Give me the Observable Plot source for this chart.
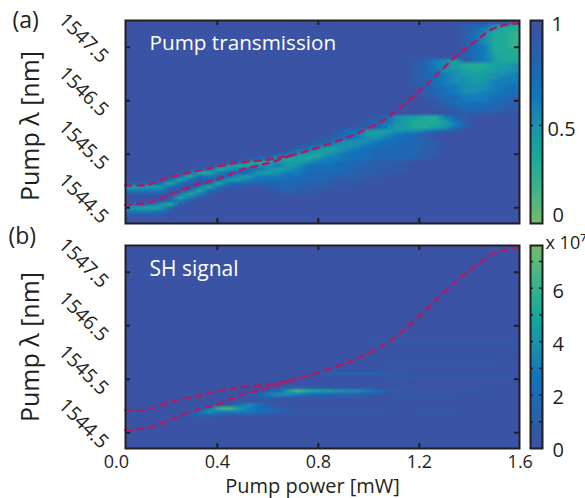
<!DOCTYPE html>
<html>
<head>
<meta charset="utf-8">
<script src="https://cdn.jsdelivr.net/npm/d3@7"></script>
<script src="https://cdn.jsdelivr.net/npm/@observablehq/plot@0.6"></script>
<style>
html,body{margin:0;padding:0;background:#fff}
#chart{position:relative;width:585px;height:498px;overflow:hidden}
#chart svg{position:absolute;overflow:visible;background:none}
</style>
</head>
<body>
<div id="chart"></div>
<script>
const FONT = "'Open Sans', sans-serif";
const INK = "#231f20";
const LINE = "#a5206b";

// Axis values
const powerDomain = [0.036, 1.597];
const lambdaDomain = [1544.205, 1548.0];
const powerLabels = [0, 0.4, 0.8, 1.2, 1.6];
const powerTicks = [0.4, 0.8, 1.2];
const lambdaTicks = [1544.5, 1545.5, 1546.5, 1547.5];

// Resonance traces: pump power [mW], wavelength [nm]
const upperPower = [0.036,0.123,0.202,0.333,0.463,0.598,0.701,0.820,0.954,1.085,1.216,1.350,1.430,1.481,1.533,1.588];
const upperLambda = [1544.92,1544.93,1545.06,1545.20,1545.33,1545.40,1545.49,1545.66,1545.89,1546.22,1546.75,1547.35,1547.64,1547.82,1547.91,1547.95];
const lowerPower = [0.036,0.135,0.226,0.333,0.400,0.491,0.598,0.701];
const lowerLambda = [1544.55,1544.60,1544.77,1544.95,1545.03,1545.20,1545.33,1545.49];

// Colour ramp
const rampColors = ["#3a53a4","#0f75bd","#1b8fb0","#14a89c","#3fb58a","#6bbd6e"];
const transmissionStops = [1,0.65,0.5,0.35,0.15,0];
const shStops = [0,2.66,3.8,4.94,6.46,7.6];
const transmissionBar = [1,.95,.9,.85,.8,.75,.7,.65,.6,.55,.5,.45,.4,.35,.3,.25,.2,.15,.1,.05,0];
const shBar = [7.6,7.2,6.8,6.4,6,5.6,5.2,4.8,4.4,4,3.6,3.2,2.8,2.4,2,1.6,1.2,.8,.4,0];

// Heat-map samples on a 40 x 58 grid.
// Each run is [row, firstColumn, digits] or [column, firstRow, digits]; a digit is tenths,
// "a" stands for 0.5 and "b" for 9.5.
const gridCols = 40, gridRows = 58;
const transmissionRowRuns = [
[1,34,"987543"],[2,34,"986433"],[3,34,"975332"],[4,34,"975332"],[5,34,"975332"],[6,34,"975332"],
[7,34,"976332"],[8,34,"976333"],[9,34,"976333"],[10,34,"976433"],[11,29,"98654"],[11,34,"976433"],
[12,29,"98654333445"],[13,29,"98654333445"],[14,29,"98755434455"],[15,29,"98765444556"],
[16,29,"98765544566"],[17,29,"98765545666"],[18,29,"98766555667"],[19,30,"9876555677"],
[20,30,"9876556677"],[21,30,"9877666778"],[22,30,"b988666789"],[23,31,"987777889"],
[24,31,"b98778889"],[25,32,"b988889b"],[26,33,"b999bbb"],
[27,25,"9754433689"],[28,24,"99754333579"],[29,24,"98654333468"],[30,23,"998644334579"],
[31,21,"9775445556789"],[32,21,"9764456789"],[33,20,"98765567789"],
[34,19,"9865556778889"],[35,18,"98655567788899"],[36,17,"975445677888899"],
[37,16,"9654456778888899"],[38,15,"96443567778888899"],[39,13,"986443566777888899"],
[40,17,"55667788999b"],[41,18,"777888999b"],[42,17,"77777888999b"],[43,15,"88888888999bb"],
[44,15,"8877888999bb"],[45,14,"b888888999bb"],[46,13,"b8888899bbb"],[47,14,"b889999bb"],
[48,14,"b9899bb"],[49,16,"9bbb"]
];
const transmissionColumnRuns = [
[0,46,"8469"],[1,46,"8469"],[2,46,"8469"],[3,46,"7469"],[4,45,"7379"],[5,44,"7379"],[6,43,"7379"],
[7,42,"7379"],[8,42,"7369"],[9,41,"7369"],[10,41,"4579"],[11,40,"7369"],[12,40,"4479"],
[13,39,"7358"],[14,39,"7358"],[15,38,"7357"],[16,38,"6347"],
[0,52,"8469"],[1,52,"8469"],[2,52,"7369"],[3,52,"5479"],[4,51,"7389"],[5,49,"7369"],[6,48,"7369"],
[7,47,"6369"],[8,46,"7379"],[9,45,"7379"],[10,44,"7479"],[11,44,"5489"],[12,43,"7468"],
[13,42,"74678"],[14,42,"546789"],[15,41,"6456789"],[16,40,"54567788"],[17,39,"4456678889"]
];
const shRowRuns = [
[27,24,"aaaaaaaaaaaaaaaa"],[31,26,"aaaaaaaaaaaaa"],[33,26,"aaaaaaaaaaaa"],
[36,19,"a1222221aa"],[37,26,"aaaaaaaaaaaaaa"],[38,22,"aaaaaaa"],
[40,15,"a1111aa"],[41,14,"12697665554321"],[42,12,"1245543322211a"],[43,13,"1211aaaaaaa"],
[45,10,"13531"],[46,7,"1389643211"],[47,7,"35444433211aaaaaaaaa"],[48,6,"1221aaa"],[47,29,"aaaaa"],
[41,28,"aaaaaaaaa"],[43,27,"aaaaaaa"]
];
const shColumnRuns = [];

const digit = ch => ch === "a" ? 0.5 : ch === "b" ? 9.5 : +ch;
function buildGrid(rowRuns, columnRuns, blank, scale, pick) {
  const grid = new Array(gridCols * gridRows).fill(blank);
  const put = (r, c, ch) => {
    if (r >= gridRows || c >= gridCols) return;
    const i = r * gridCols + c;
    grid[i] = pick(grid[i], digit(ch) * scale);
  };
  for (const [r, c, s] of rowRuns) [...s].forEach((ch, k) => put(r, c + k, ch));
  for (const [c, r, s] of columnRuns) [...s].forEach((ch, k) => put(r + k, c, ch));
  return grid;
}
const transmissionGrid = buildGrid(transmissionRowRuns, transmissionColumnRuns, 1, 0.1, Math.min);
const shGrid = buildGrid(shRowRuns, shColumnRuns, 0, 0.76, Math.max);

const upperData = upperPower.map((p, i) => ({p, l: upperLambda[i]}));
const lowerData = lowerPower.map((p, i) => ({p, l: lowerLambda[i]}));

function panel({values, stops, height, top, marginTop, marginBottom, title, tag, xLabels, tagDy, tagDx, titleDy, labelDy, titleSize}) {
  const dash = {x: "p", y: "l", stroke: LINE, strokeWidth: 2.6, strokeDasharray: "6,6", curve: "catmull-rom"};
  const tick = {stroke: INK, strokeWidth: 2};
  const marks = [
    Plot.raster(values, {
      width: gridCols, height: gridRows, fill: d => d,
      x1: powerDomain[0], x2: powerDomain[1], y1: lambdaDomain[1], y2: lambdaDomain[0]
    }),
    Plot.line(upperData, dash),
    Plot.line(lowerData, dash),
    Plot.ruleX(powerTicks, {x: d => d, insetTop: 198, ...tick}),
    Plot.ruleX(powerTicks, {x: d => d, insetBottom: 198, ...tick}),
    Plot.ruleY(lambdaTicks, {y: d => d, insetRight: 389, ...tick}),
    Plot.ruleY(lambdaTicks, {y: d => d, insetLeft: 389, ...tick}),
    Plot.frame({stroke: INK, strokeWidth: 2}),
    Plot.text(lambdaTicks, {y: d => d, text: d => d.toFixed(1), frameAnchor: "left", dx: -42, dy: -9, rotate: 45, textAnchor: "middle", fontSize: 19.5, fill: INK}),
    Plot.text(["Pump \u03bb [nm]"], {frameAnchor: "left", dx: -95, dy: labelDy, rotate: -90, textAnchor: "middle", fontSize: 25, fill: INK}),
    Plot.text([tag], {frameAnchor: "top-left", dx: tagDx, dy: tagDy, fontSize: 23, fill: INK}),
    Plot.text([title], {frameAnchor: "top-left", dx: 24, dy: titleDy, fontSize: titleSize, fill: "#fff"})
  ];
  if (xLabels) {
    marks.push(Plot.axisX({anchor: "bottom", label: null, ticks: powerLabels, tickSize: 0, tickPadding: 7, tickFormat: d => d.toFixed(1), fontSize: 18, stroke: "none", fill: INK}));
    marks.push(Plot.text(["Pump power [mW]"], {frameAnchor: "bottom", dx: -10, dy: 44.5, fontSize: 20, fill: INK}));
  }
  const svg = Plot.plot({
    width: 585, height, marginLeft: 125, marginRight: 66, marginTop, marginBottom,
    style: {fontFamily: FONT, background: "none", overflow: "visible"},
    x: {domain: powerDomain, axis: null},
    y: {domain: lambdaDomain, axis: null},
    color: {type: "linear", domain: stops, range: rampColors, legend: false},
    marks
  });
  svg.style.left = "0px"; svg.style.top = top + "px";
  return svg;
}

function colorbar({values, stops, domain, top, height, marginTop, marginBottom, ticks, labels}) {
  const tick = {stroke: INK, strokeWidth: 1.5};
  const svg = Plot.plot({
    width: 60, height, marginLeft: 5, marginRight: 43, marginTop, marginBottom,
    style: {fontFamily: FONT, background: "none", overflow: "visible"},
    x: {domain: [0, 1], axis: null},
    y: {domain, axis: null},
    color: {type: "linear", domain: stops, range: rampColors, legend: false},
    marks: [
      Plot.raster(values, {width: 1, height: values.length, fill: d => d, x1: 0, x2: 1, y1: domain[1], y2: domain[0]}),
      Plot.ruleY(ticks, {y: d => d, insetRight: 9, ...tick}),
      Plot.ruleY(ticks, {y: d => d, insetLeft: 9, ...tick}),
      Plot.frame({stroke: INK, strokeWidth: 2}),
      ...labels.map(l => Plot.text([l.t], {frameAnchor: l.f, dx: l.dx, dy: l.dy, textAnchor: "start", fontSize: l.s || 20, fill: INK}))
    ]
  });
  svg.style.left = "525px"; svg.style.top = top + "px";
  return svg;
}

const root = document.getElementById("chart");
root.append(panel({
  values: transmissionGrid, stops: transmissionStops, height: 240, top: 0, marginTop: 20, marginBottom: 17,
  title: "Pump transmission", tag: "(a)", xLabels: false, tagDx: -113, tagDy: -9, titleDy: 15, labelDy: 4, titleSize: 20.7
}));
root.append(panel({
  values: shGrid, stops: shStops, height: 268, top: 230, marginTop: 15, marginBottom: 50,
  title: "SH signal", tag: "(b)", xLabels: true, tagDx: -117, tagDy: -18, titleDy: 16, labelDy: 0, titleSize: 21
}));
root.append(colorbar({
  values: transmissionBar, stops: transmissionStops, domain: [0, 1.035], top: 0, height: 240, marginTop: 20, marginBottom: 17,
  ticks: [0.5],
  labels: [
    {t: "1", f: "top-right", dx: 9, dy: -4},
    {t: "0.5", f: "right", dx: 5, dy: 8},
    {t: "0", f: "bottom-right", dx: 10, dy: -2}
  ]
}));
root.append(colorbar({
  values: shBar, stops: shStops, domain: [0, 7.6], top: 230, height: 268, marginTop: 15, marginBottom: 50,
  ticks: [1, 2, 3, 4, 5, 6, 7],
  labels: [
    {t: "x 10\u2077", f: "top-right", dx: 3, dy: -9, s: 18},
    {t: "6", f: "top-right", dx: 10, dy: 38},
    {t: "4", f: "top-right", dx: 10, dy: 91},
    {t: "2", f: "top-right", dx: 10, dy: 144},
    {t: "0", f: "bottom-right", dx: 10, dy: 8}
  ]
}));
</script>
</body>
</html>
